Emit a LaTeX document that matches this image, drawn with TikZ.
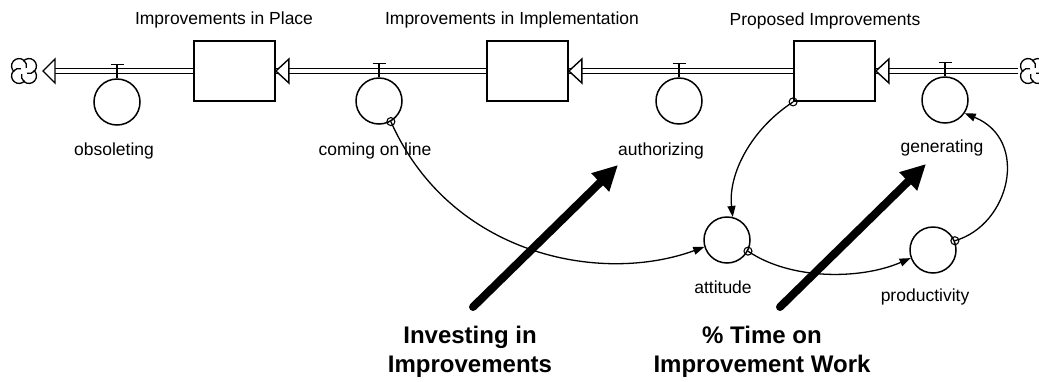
\documentclass[tikz,border=0pt]{standalone}
\usepackage{fontspec}
\setmainfont{Liberation Sans}
\usetikzlibrary{arrows.meta}

\tikzset{
  stock/.style={draw, line width=1.8pt, rectangle, minimum width=81pt, minimum height=60pt, inner sep=0pt},
  valve/.style={draw, line width=1.5pt, circle, minimum size=46pt, inner sep=0pt},
  pipe/.style={line width=1.4pt, double=white, double distance=3.4pt},
  pipehead/.style={draw, line width=1.4pt, fill=white, line join=miter},
  cloudspot/.style={circle, minimum size=29pt, inner sep=0pt},
  puff/.style={line width=1.3pt},
  cloudpic/.pic={
    \foreach \a in {45,135,225,315}{
      \draw[puff] (\a:7) ++(\a-95:7.5) arc[start angle=\a-95, end angle=\a+150, radius=7.5];
    }
  },
  lbl/.style={font=\fontsize{17.5}{21}\selectfont, inner sep=0pt},
  big/.style={font=\bfseries\fontsize{24}{29}\selectfont, align=center, inner sep=0pt},
  link/.style={line width=1.3pt, -{Triangle[length=11pt,width=8pt]}},
  tap/.style={draw, circle, line width=1.1pt, minimum size=8pt, inner sep=0pt},
  lever/.style={line width=8pt, line cap=round, -{Triangle[length=25pt,width=24pt]}},
  stem/.style={line width=1.4pt},
}

\begin{document}
\begin{tikzpicture}[x=1pt, y=-1pt]
  \useasboundingbox (0,0) rectangle (1039,381);
  \clip (0,0) rectangle (1039,381);

  % stocks
  \node[stock] (s1) at (234.5,71) {};
  \node[stock] (s2) at (527.5,71) {};
  \node[stock] (s3) at (834.5,71) {};
  \node[lbl] (s1l) at (224,20) {Improvements in Place};
  \node[lbl] (s2l) at (512,20) {Improvements in Implementation};
  \node[lbl] (s3l) at (825,21) {Proposed Improvements};

  % source and sink clouds
  \node[cloudspot] (cL) at (24,71) {};
  \node[cloudspot] (cR) at (1033,71) {};
  \pic at (cL) {cloudpic};
  \pic at (cR) {cloudpic};
  \coordinate (pL) at (43,71);

  % pipes
  \draw[pipe] (s1.west) -- ([xshift=10]pL);
  \draw[pipe] (s2.west) -- (s1.east);
  \draw[pipe] (s3.west) -- (s2.east);
  \draw[pipe] (cR.west) -- (s3.east);

  % pipe heads
  \draw[pipehead] (pL) -- ++(12,-12) -- ++(0,24) -- cycle;
  \draw[pipehead] (s1.east) -- ++(13,-12) -- ++(0,24) -- cycle;
  \draw[pipehead] (s2.east) -- ++(13,-12) -- ++(0,24) -- cycle;
  \draw[pipehead] (s3.east) -- ++(13,-12) -- ++(0,24) -- cycle;

  % valves
  \node[valve] (v1) at (117,102) {};
  \node[valve] (v2) at (379,101) {};
  \node[valve] (v3) at (679,101) {};
  \node[valve] (v4) at (945,100) {};
  \foreach \v in {v1,v2,v3,v4}{
    \draw[stem] (\v.north) -- ++(0,-14) ++(-6.5,0) -- ++(13,0);
  }
  \node[lbl] (v1l) at (114,151) {obsoleting};
  \node[lbl] (v2l) at (375,151) {coming on line};
  \node[lbl] (v3l) at (661,151) {authorizing};
  \node[lbl] (v4l) at (942,148) {generating};

  % auxiliaries
  \node[valve] (att) at (727,240) {};
  \node[valve] (prd) at (933,250) {};
  \node[lbl] (attl) at (723,287) {attitude};
  \node[lbl] (prdl) at (925,297) {productivity};

  % information links
  \node[tap] (t1) at (v2.-60) {};
  \node[tap] (t2) at (s3.south west) {};
  \node[tap] (t3) at (att.-28) {};
  \node[tap] (t4) at (prd.23) {};
  \draw[link] (t1.center) .. controls (450,255) and (600,285) .. (att.197);
  \draw[link] (t2.center) .. controls (750,130) and (728,175) .. (att.76);
  \draw[link] (t3.center) .. controls (790,280) and (860,280) .. (prd.200);
  \draw[link] (t4.center) .. controls (1010,225) and (1030,140) .. (v4.-34);

  % policy levers
  \coordinate (a1s) at (473,307);
  \coordinate (a1e) at (618,165);
  \coordinate (a2s) at (780,307);
  \coordinate (a2e) at (926,164);
  \draw[lever] (a1s) -- (a1e);
  \draw[lever] (a2s) -- (a2e);
  \node[big] (b1) at (470,352) {Investing in\\Improvements};
  \node[big] (b2) at (762,352) {\% Time on\\Improvement Work};
\end{tikzpicture}
\end{document}
